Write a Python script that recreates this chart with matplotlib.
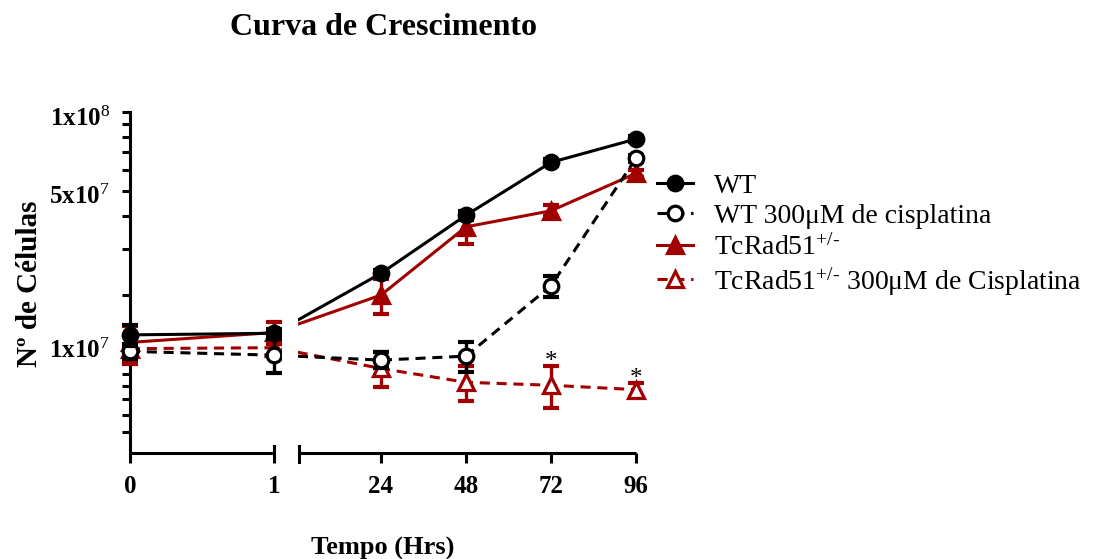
import numpy as np
import matplotlib
matplotlib.use('Agg')
from matplotlib import pyplot as plt
from matplotlib.ticker import FixedLocator, NullFormatter
from matplotlib.transforms import ScaledTranslation

plt.rcParams['font.family'] = ['Liberation Serif', 'DejaVu Serif']
plt.rcParams['mathtext.fontset'] = 'custom'
plt.rcParams['mathtext.rm'] = 'Liberation Serif'
plt.rcParams['mathtext.bf'] = 'Liberation Serif:bold'
plt.rcParams['mathtext.it'] = 'Liberation Serif:italic'

# time points (hours)
hours = [0, 1, 24, 48, 72, 96]
xtick_labels = ['0', '1', '24', '48', '72', '96']

# number of cells, mean and SD
wt = [1.41e7, 1.43e7, 2.42e7, 4.03e7, 6.41e7, 7.87e7]
wt_sd = [1.3e6, 0.6e6, 0.8e6, 1.5e6, 2.0e6, 2.0e6]
wt_cis = [1.22e7, 1.18e7, 1.13e7, 1.17e7, 2.17e7, 6.64e7]
wt_cis_sd = [0.8e6, 1.75e6, 0.8e6, 1.5e6, 2.0e6, 2.0e6]
rad = [1.32e7, 1.44e7, 2.0e7, 3.64e7, 4.19e7, 5.82e7]
rad_sd = [2.1e6, 1.37e6, 3.0e6, 5.2e6, 2.0e6, 2.0e6]
rad_cis = [1.25e7, 1.26e7, 1.05e7, 9.3e6, 9.06e6, 8.72e6]
rad_cis_sd = [1.6e6, 0.8e6, 1.6e6, 1.4e6, 1.65e6, 0.55e6]
signif = [72, 96]  # points marked with *

labels = ['WT', 'WT 300μM de cisplatina', r'TcRad51$^{\text{+/-}}$',
          r'TcRad51$^{\text{+/-}}$ 300μM de Cisplatina']

yticks = [1e7, 5e7, 1e8]
ytick_labels = [r'$\mathbf{1x10}^{7}$', r'$\mathbf{5x10}^{7}$', r'$\mathbf{1x10}^{8}$']

RED = '#A00000'

# piecewise x axis: 0-1 h stretched, then 24 h steps
knots_h = [0, 1, 24, 96]
knots_u = [0, 144, 250.5, 505]
fwd = lambda t: np.interp(t, knots_h, knots_u)
inv = lambda u: np.interp(u, knots_u, knots_h)

fig = plt.figure(figsize=(10.97, 5.59), dpi=100)
ax = fig.add_axes([130/1097, 1 - 453/559, 506/1097, 341.3/559])
ax.set_xscale('function', functions=(fwd, inv))
ax.set_yscale('log')

series = [
    (rad_cis, rad_cis_sd, RED, '--', '^', 'white', 3.0),
    (rad, rad_sd, RED, '-', '^', RED, 3.1),
    (wt_cis, wt_cis_sd, 'k', '--', 'o', 'white', 3.2),
    (wt, wt_sd, 'k', '-', 'o', 'k', 3.3),
]
handles = {}
for (y, sd, c, ls, m, fc, z), lab in zip(series, labels[::-1]):
    ax.errorbar(hours, y, yerr=sd, fmt='none', ecolor=c, elinewidth=2.4,
                capsize=5.8, capthick=3, zorder=z, clip_on=False)
    ms = 10.5 if m == 'o' else 11.5
    ln, = ax.plot(hours, y, linestyle=ls, color=c, lw=2.2, marker=m,
                  ms=ms, mfc=fc, mec=c, mew=2.3, zorder=z, clip_on=False,
                  label=lab)
    if ls == '--':
        ln.set_dashes((3.3, 2.2))
    handles[lab] = ln

for h in signif:
    i = hours.index(h)
    ax.annotate('*', (h, rad_cis[i] + rad_cis_sd[i]), xytext=(0, -1.5),
                textcoords='offset points', ha='center', va='baseline',
                fontsize=18)

# axis break
ax.axvspan(2.73, 6.18, color='white', zorder=4, lw=0)
xt = ax.get_xaxis_transform()
ax.plot([0, 1], [0, 0], transform=xt, color='k', lw=2.2, clip_on=False,
        solid_capstyle='butt', zorder=5)
ax.plot([6.4, 96], [0, 0], transform=xt, color='k', lw=2.2, clip_on=False,
        solid_capstyle='butt', zorder=5)
ax.plot([1, 1], [0, 0.021], transform=xt, color='k', lw=2.2, clip_on=False, zorder=5)
ax.plot([6.4, 6.4], [-0.026, 0.021], transform=xt, color='k', lw=2.2,
        clip_on=False, zorder=5)

ax.set_xlim(0, 96)
ax.set_ylim(5e6, 1e8)
for s in ['top', 'right', 'bottom']:
    ax.spines[s].set_visible(False)
ax.spines['left'].set_linewidth(2.2)

ax.tick_params(axis='x', which='major', length=7.2, width=2.2, pad=8.5,
               labelsize=18)
ax.tick_params(axis='y', which='major', length=5.5, width=2.2, pad=9,
               labelsize=18)
ax.tick_params(axis='y', which='minor', length=5.5, width=2.2)
ax.set_xticks(hours)
ax.set_xticklabels(xtick_labels, fontweight='bold')
ax.set_yticks(yticks)
ax.set_yticklabels(ytick_labels)
ax.yaxis.set_minor_locator(FixedLocator([6e6, 7e6, 8e6, 9e6, 2e7, 3e7, 4e7,
                                         6e7, 7e7, 8e7, 9e7]))
ax.yaxis.set_minor_formatter(NullFormatter())

# label offsets as in the original (1x10^7 sits above its tick)
for tick, dy in zip(ax.yaxis.get_major_ticks(), [0.26, -0.035, -0.05]):
    lbl = tick.label1
    lbl.set_transform(lbl.get_transform() + ScaledTranslation(0, dy, fig.dpi_scale_trans))

ax.set_title('Curva de Crescimento', fontsize=23, fontweight='bold', pad=55)
ax.set_xlabel('Tempo (Hrs)', fontsize=19, fontweight='bold')
ax.xaxis.set_label_coords(0.5, -0.247)
ax.set_ylabel('Nº de Células', fontsize=21, fontweight='bold')
ax.yaxis.set_label_coords(-0.172, 0.497)

ax.legend(handles=[handles[l] for l in labels], loc='center left',
          bbox_to_anchor=(657/1097, 1 - 235.5/559),
          bbox_transform=fig.transFigure, frameon=False, fontsize=20,
          handlelength=1.3, handletextpad=0.75, labelspacing=0.17,
          borderpad=0, borderaxespad=0)

fig.savefig('out.png', dpi=100)
